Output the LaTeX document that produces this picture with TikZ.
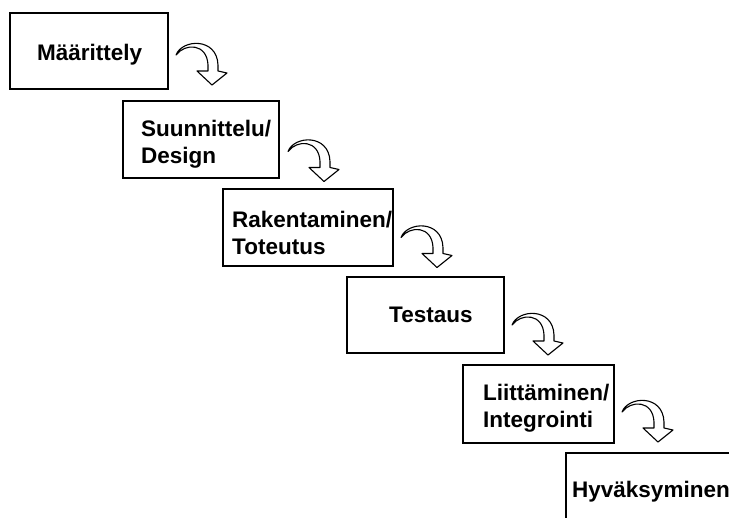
\documentclass[tikz,border=0pt]{standalone}
\usepackage{fontspec}
\setmainfont{Liberation Sans}
\usetikzlibrary{positioning,calc}

\begin{document}
\begin{tikzpicture}[x=1pt,y=-1pt,
turn/.pic={\draw[line width=1.1pt,fill=white,line join=round] (0,0) .. controls (6,-16) and (41,-18) .. (42,10) -- (42,16) -- (51,18) -- (36,30) -- (21,16) -- (32,16) -- (32,10) .. controls (31,-12) and (9,-12) .. (0,0) -- cycle;}]
\tikzstyle{stage}=[draw,line width=2pt,rectangle,anchor=north west,inner sep=0pt,outer sep=0pt]
\tikzstyle{caption}=[inner sep=0pt,align=left,font=\bfseries\fontsize{22.5}{27}\selectfont]

\useasboundingbox (0,0) rectangle (729,518);
\clip (0,0) rectangle (729,518);

%steps going down
\node[stage,minimum width=158pt,minimum height=76pt] (def) at (10,13) {};
\node[stage,minimum width=156pt,minimum height=77pt] (design) at (123,101) {};
\node[stage,minimum width=170pt,minimum height=77pt] (build) at (223,189) {};
\node[stage,minimum width=157pt,minimum height=76pt] (test) at (347,277) {};
\node[stage,minimum width=151pt,minimum height=78pt] (integ) at (463,365) {};
\node[stage,minimum width=175pt,minimum height=77pt] (accept) at (566,453) {};

%texts in the steps
\node[caption,right=27pt of def.west,yshift=-4pt] (def-text) {Määrittely};
\node[caption,right=18pt of design.west,yshift=-5pt] (design-text) {Suunnittelu/\\Design};
\node[caption,right=9pt of build.west,yshift=-5pt] (build-text) {Rakentaminen/\\Toteutus};
\node[caption,right=42pt of test.west] (test-text) {Testaus};
\node[caption,right=20pt of integ.west,yshift=-4pt] (integ-text) {Liittäminen/\\Integrointi};
\node[caption,right=6pt of accept.west] (accept-text) {Hyväksyminen};

%turning arrows
\pic at ($(def.east)+(8,4)$) {turn};
\pic at ($(design.east)+(9,12)$) {turn};
\pic at ($(build.east)+(8,10)$) {turn};
\pic at ($(test.east)+(8,10)$) {turn};
\pic at ($(integ.east)+(8,8)$) {turn};
\end{tikzpicture}
\end{document}
